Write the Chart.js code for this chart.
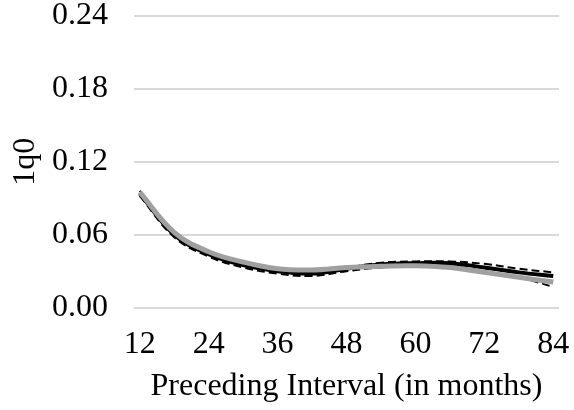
<!DOCTYPE html>
<html lang="en">
<head>
  <meta charset="UTF-8">
  <title>1q0 by preceding interval</title>
  <script src="https://cdn.jsdelivr.net/npm/chart.js"></script>
  <style>
    body { margin: 0; background: #fff; }
    #wrap { width: 574px; height: 410px; }
  </style>
</head>
<body>
<div id="wrap"><canvas id="grafico"></canvas></div>
<script>
const months = [12, 18, 24, 30, 36, 42, 48, 54, 60, 66, 72, 78, 84];
const estimate = [0.094, 0.060, 0.044, 0.035, 0.030, 0.028, 0.032, 0.0355, 0.0365, 0.0365, 0.033, 0.029, 0.026];
const upperBound = [0.096, 0.062, 0.046, 0.037, 0.032, 0.030, 0.033, 0.037, 0.038, 0.038, 0.036, 0.032, 0.029];
const lowerBound = [0.092, 0.058, 0.042, 0.033, 0.028, 0.026, 0.030, 0.033, 0.034, 0.034, 0.030, 0.025, 0.017];
const comparison = [0.095, 0.062, 0.046, 0.0375, 0.032, 0.031, 0.033, 0.034, 0.0345, 0.033, 0.029, 0.025, 0.021];
const xTicks = [12, 24, 36, 48, 60, 72, 84];
const yTicks = [0, 0.06, 0.12, 0.18, 0.24];

const pts = arr => arr.map((v, i) => ({ x: months[i], y: v }));
const serif = "'Liberation Serif', 'Times New Roman', serif";

function linha(data, cor, largura, ordem, traco) {
  return {
    data: pts(data),
    borderColor: cor,
    borderWidth: largura,
    borderDash: traco || [],
    pointRadius: 0,
    fill: false,
    tension: 0.4,
    order: ordem
  };
}

new Chart(document.getElementById('grafico'), {
  type: 'line',
  data: {
    datasets: [
      linha(comparison, '#a0a0a0', 5, 0),
      linha(estimate, '#000000', 4, 1),
      linha(upperBound, '#000000', 2, 2, [8, 4]),
      linha(lowerBound, '#000000', 2, 2, [8, 4])
    ]
  },
  options: {
    responsive: true,
    maintainAspectRatio: false,
    animation: false,
    layout: { padding: { top: 0, right: 15, bottom: 0, left: 0 } },
    plugins: { legend: { display: false }, tooltip: { enabled: false } },
    scales: {
      x: {
        type: 'linear',
        min: 11,
        max: 85,
        afterBuildTicks: ax => { ax.ticks = xTicks.map(v => ({ value: v })); },
        afterFit: ax => { ax.paddingRight = 0; },
        grid: { display: false },
        border: { display: false },
        ticks: { color: '#000', font: { family: serif, size: 32 }, padding: 10, maxRotation: 0 },
        title: { display: true, text: 'Preceding Interval (in months)', color: '#000', font: { family: serif, size: 32, lineHeight: 1 }, padding: { top: -3, bottom: 7 } }
      },
      y: {
        min: 0,
        max: 0.24,
        afterBuildTicks: ax => { ax.ticks = yTicks.map(v => ({ value: v })); },
        // the tick padding would otherwise push the plot down from the top edge
        afterFit: ax => { ax.paddingTop = 16; },
        grid: { color: '#d9d9d9', lineWidth: 2, drawTicks: false },
        border: { display: false },
        ticks: { color: '#000', font: { family: serif, size: 32 }, padding: 26, callback: v => v.toFixed(2) },
        title: { display: true, text: '1q0', color: '#000', font: { family: serif, size: 32, lineHeight: 1 }, padding: { top: 10, bottom: -16 } }
      }
    }
  }
});
</script>
</body>
</html>
